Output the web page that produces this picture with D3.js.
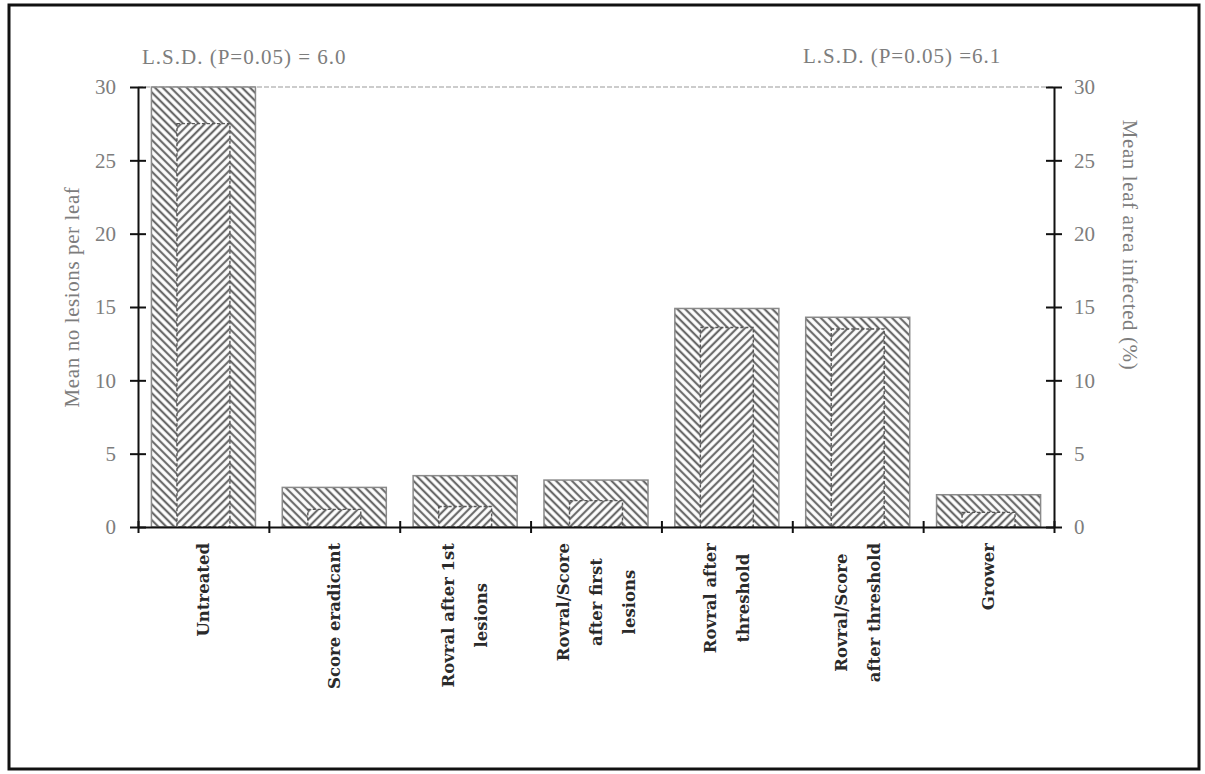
<!DOCTYPE html>
<html>
<head>
<meta charset="utf-8">
<script src="https://cdn.jsdelivr.net/npm/d3@7"></script>
<style>
  html, body { margin: 0; padding: 0; background: #fff; }
  svg { display: block; }
</style>
</head>
<body>
<script>
// Treatments along the x axis ("\n" marks a line break in the label)
const categories = [
  "Untreated",
  "Score eradicant",
  "Rovral after 1st\nlesions",
  "Rovral/Score\nafter first\nlesions",
  "Rovral after\nthreshold",
  "Rovral/Score\nafter threshold",
  "Grower"
];
// Mean number of lesions per leaf (left axis, wide bars)
const lesionsPerLeaf = [30, 2.7, 3.5, 3.2, 14.9, 14.3, 2.2];
// Mean leaf area infected, % (right axis, narrow bars)
const leafAreaInfected = [27.5, 1.2, 1.4, 1.8, 13.6, 13.5, 1.0];
// Axis ticks shared by both y axes
const yTicks = [0, 5, 10, 15, 20, 25, 30];
const lsdLeft = "L.S.D. (P=0.05) = 6.0";
const lsdRight = "L.S.D. (P=0.05) =6.1";

const W = 1205, H = 774;
const plot = { left: 138, right: 1054, top: 87, bottom: 527 };
const serif = "'Liberation Serif', 'Times New Roman', serif";
const labelFont = "'DejaVu Serif', serif";
const gray = "#7d7d7d";

const svg = d3.select("body").append("svg")
  .attr("width", W).attr("height", H);

// Hatch fills: backward diagonals for the wide bars, forward for the narrow ones
const defs = svg.append("defs");
function hatch(id, angle) {
  const s = 5.6;
  const p = defs.append("pattern")
    .attr("id", id)
    .attr("patternUnits", "userSpaceOnUse")
    .attr("width", s).attr("height", s)
    .attr("patternTransform", `rotate(${angle})`);
  p.append("rect").attr("width", s).attr("height", s).attr("fill", "#fff");
  p.append("line").attr("x1", s / 2).attr("y1", 0).attr("x2", s / 2).attr("y2", s)
    .attr("stroke", "#6a6a6a").attr("stroke-width", 2.2);
}
hatch("hatchBack", -45);
hatch("hatchFwd", 45);

// Outer frame
svg.append("rect")
  .attr("x", 9).attr("y", 5).attr("width", 1190).attr("height", 764)
  .attr("fill", "none").attr("stroke", "#111").attr("stroke-width", 3);

const x = d3.scaleBand().domain(categories).range([plot.left, plot.right]).padding(0);
const xEdges = d3.scaleLinear().domain([0, categories.length]).range([plot.left, plot.right]);
const yLeft = d3.scaleLinear().domain([0, 30]).range([plot.bottom, plot.top]);
const yRight = d3.scaleLinear().domain([0, 30]).range([plot.bottom, plot.top]);

// Top border of the plotting area
svg.append("line")
  .attr("x1", plot.left).attr("x2", plot.right)
  .attr("y1", yLeft(30)).attr("y2", yLeft(30))
  .attr("stroke", "#9a9a9a").attr("stroke-width", 1.2)
  .attr("stroke-dasharray", "5,2");

const bw = x.bandwidth();
const outerW = bw * 0.795, innerW = bw * 0.405;

// Wide bars: lesions per leaf
svg.append("g").selectAll("rect")
  .data(categories)
  .join("rect")
  .attr("x", d => x(d) + (bw - outerW) / 2)
  .attr("width", outerW)
  .attr("y", (d, i) => yLeft(lesionsPerLeaf[i]))
  .attr("height", (d, i) => yLeft(0) - yLeft(lesionsPerLeaf[i]))
  .attr("fill", "url(#hatchBack)")
  .attr("stroke", "#8a8a8a").attr("stroke-width", 1.5);

// Narrow bars: % leaf area infected
svg.append("g").selectAll("rect")
  .data(categories)
  .join("rect")
  .attr("x", d => x(d) + (bw - innerW) / 2)
  .attr("width", innerW)
  .attr("y", (d, i) => yRight(leafAreaInfected[i]))
  .attr("height", (d, i) => yRight(0) - yRight(leafAreaInfected[i]))
  .attr("fill", "url(#hatchFwd)")
  .attr("stroke", "#555").attr("stroke-width", 1.4)
  .attr("stroke-dasharray", "3,2");

// Make each tick mark cross its axis line
function crossTicks(g, half, vertical) {
  g.selectAll(".tick line")
    .attr(vertical ? "x1" : "y1", -half)
    .attr(vertical ? "x2" : "y2", half)
    .attr("stroke", "#111").attr("stroke-width", 2);
  g.select(".domain").attr("stroke", "#111").attr("stroke-width", 2);
}

// Left y axis
const gL = svg.append("g")
  .attr("transform", `translate(${plot.left},0)`)
  .call(d3.axisLeft(yLeft).tickValues(yTicks).tickSize(8).tickSizeOuter(0).tickPadding(14));
crossTicks(gL, 8, true);
gL.selectAll(".tick text")
  .attr("font-family", serif).attr("font-size", 21).attr("fill", gray);

// Right y axis
const gR = svg.append("g")
  .attr("transform", `translate(${plot.right},0)`)
  .call(d3.axisRight(yRight).tickValues(yTicks).tickSize(8).tickSizeOuter(0).tickPadding(12));
crossTicks(gR, 8, true);
gR.selectAll(".tick text")
  .attr("font-family", serif).attr("font-size", 21).attr("fill", gray);

// Bottom axis with ticks between the treatments
const gB = svg.append("g")
  .attr("transform", `translate(0,${plot.bottom})`)
  .call(d3.axisBottom(xEdges).tickValues(d3.range(categories.length + 1))
    .tickFormat("").tickSize(6).tickSizeOuter(0));
crossTicks(gB, 6, false);

// Treatment labels, rotated, lines centred on each other
const labelTop = 543;
const lg = svg.append("g");
categories.forEach(cat => {
  const lines = cat.split("\n");
  const cx = x(cat) + bw / 2;
  const step = 33;
  const texts = lines.map((line, j) => {
    const lx = cx + (j - (lines.length - 1) / 2) * step;
    return lg.append("text")
      .attr("font-family", labelFont).attr("font-size", 16.5)
      .attr("font-weight", "bold")
      .attr("fill", "#2a2a2a")
      .attr("text-anchor", "middle")
      .attr("dy", "0.35em")
      .attr("data-x", lx)
      .text(line);
  });
  const maxLen = d3.max(texts, t => t.node().getComputedTextLength());
  texts.forEach(t => {
    const lx = +t.attr("data-x");
    t.attr("transform", `translate(${lx},${labelTop + maxLen / 2}) rotate(-90)`)
      .attr("data-x", null);
  });
});

// Axis titles
svg.append("text")
  .attr("transform", `translate(72,297) rotate(-90)`)
  .attr("text-anchor", "middle").attr("dy", "0.35em")
  .attr("font-family", serif).attr("font-size", 21).attr("fill", gray)
  .attr("letter-spacing", 0.6)
  .text("Mean no lesions per leaf");

svg.append("text")
  .attr("transform", `translate(1130,245) rotate(90)`)
  .attr("text-anchor", "middle").attr("dy", "0.35em")
  .attr("font-family", serif).attr("font-size", 21).attr("fill", gray)
  .attr("letter-spacing", 0.6)
  .text("Mean leaf area infected (%)");

// LSD annotations
svg.append("text")
  .attr("x", 142).attr("y", 64)
  .attr("font-family", serif).attr("font-size", 21).attr("fill", gray)
  .attr("letter-spacing", 1)
  .text(lsdLeft);
svg.append("text")
  .attr("x", 803).attr("y", 63)
  .attr("font-family", serif).attr("font-size", 21).attr("fill", gray)
  .attr("letter-spacing", 1)
  .text(lsdRight);
</script>
</body>
</html>
